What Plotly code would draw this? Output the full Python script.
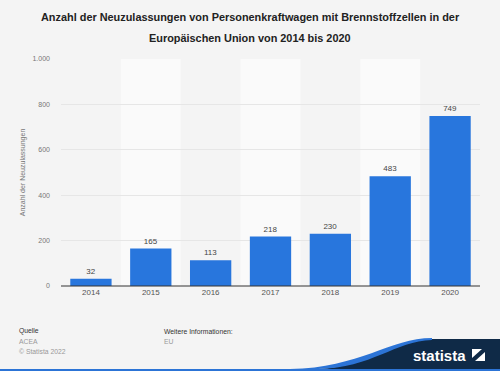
import plotly.graph_objects as go

years = ["2014", "2015", "2016", "2017", "2018", "2019", "2020"]
values = [32, 165, 113, 218, 230, 483, 749]
ytick_vals = [0, 200, 400, 600, 800, 1000]
ytick_text = ["0", "200", "400", "600", "800", "1.000"]
title_lines = ["Anzahl der Neuzulassungen von Personenkraftwagen mit Brennstoffzellen in der",
               "Europäischen Union von 2014 bis 2020"]

W, H = 500, 371
L, R, T, B = 61, 20, 59, 85
PW, PH = W - L - R, H - T - B

def px(x):
    return (x - L) / PW

def py(y):
    return (H - B - y) / PH

FONT = "Liberation Sans, Arial, sans-serif"

fig = go.Figure()
fig.add_trace(go.Bar(
    x=years, y=values,
    marker=dict(color="#2876dd", line=dict(width=0)),
    text=[str(v) for v in values], textposition="outside",
    textfont=dict(family=FONT, size=8, color="#444444"),
    cliponaxis=False, width=0.69, hoverinfo="skip",
))

shapes = []
for i in range(len(years)):
    if i % 2 == 1:
        shapes.append(dict(type="rect", xref="x", yref="paper", x0=i - 0.5, x1=i + 0.5,
                           y0=0, y1=1, fillcolor="#fafafa", line=dict(width=0), layer="below"))
shapes.append(dict(type="line", xref="paper", yref="paper", x0=0, x1=1, y0=0, y1=0,
                   line=dict(color="#333333", width=1), layer="above"))

def P(x, y):
    return f"{px(x):.5f},{py(y):.5f}"

navy = (f"M {P(318,369)} C {P(370,366)} {P(395,340)} {P(432,339)} "
        f"L {P(500,339)} L {P(500,369)} Z")
shapes.append(dict(type="path", xref="paper", yref="paper", path=navy,
                   fillcolor="#0f2a47", line=dict(width=0)))
wave = (f"M {P(290,369)} C {P(360,368)} {P(390,338)} {P(432,338)} "
        f"L {P(432,340)} C {P(395,341)} {P(372,368)} {P(318,369)} Z")
shapes.append(dict(type="path", xref="paper", yref="paper", path=wave,
                   fillcolor="#2c74d6", line=dict(width=0)))
shapes.append(dict(type="rect", xref="paper", yref="paper", x0=px(0), x1=px(500),
                   y0=py(371), y1=py(369), fillcolor="#2c74d6", line=dict(width=0)))
shapes.append(dict(type="rect", xref="paper", yref="paper", x0=px(472), x1=px(485),
                   y0=py(361), y1=py(349), fillcolor="#ffffff", line=dict(width=0)))
shapes.append(dict(type="path", xref="paper", yref="paper",
                   path=f"M {P(472,358)} L {P(482,349)} L {P(485,349)} L {P(485,352)} L {P(475,361)} L {P(472,361)} Z",
                   fillcolor="#0f2a47", line=dict(width=0)))

def ann(text, x, y, size, color, anchor="left"):
    return dict(text=text, x=px(x), y=py(y), xref="paper", yref="paper", xanchor=anchor, yanchor="middle",
                showarrow=False, font=dict(family=FONT, size=size, color=color))

annotations = [
    ann("<b>" + title_lines[0] + "</b>", 250, 17, 10.9, "#222222", "center"),
    ann("<b>" + title_lines[1] + "</b>", 250, 38, 10.9, "#222222", "center"),
    ann("Quelle", 17, 331, 6.8, "#333333"),
    ann("ACEA", 17, 341, 6.8, "#999999"),
    ann("© Statista 2022", 17, 351, 6.8, "#999999"),
    ann("Weitere Informationen:", 162, 331, 6.8, "#333333"),
    ann("EU", 162, 341, 6.8, "#999999"),
    ann("<b>statista</b>", 468, 355, 15, "#ffffff", "right"),
]

fig.update_layout(
    width=W, height=H,
    margin=dict(l=L, r=R, t=T, b=B, pad=0),
    paper_bgcolor="#f4f4f4", plot_bgcolor="#f4f4f4",
    showlegend=False,
    bargap=0.31,
    xaxis=dict(showgrid=False, showline=False, ticks="", tickfont=dict(family=FONT, size=8, color="#555555"),
               fixedrange=True),
    yaxis=dict(range=[0, 1000], tickvals=ytick_vals, ticktext=ytick_text, showgrid=True,
               gridcolor="#e6e6e6", gridwidth=1, zeroline=False, showline=False, fixedrange=True,
               tickfont=dict(family=FONT, size=7, color="#777777"), ticklabelstandoff=10,
               title=dict(text="Anzahl der Neuzulassungen", font=dict(family=FONT, size=7, color="#777777"),
                          standoff=6)),
    shapes=shapes, annotations=annotations,
)

fig.write_html("out.html", config={"displayModeBar": False},
               post_script="document.body.style.margin='0';document.body.style.padding='0';")
